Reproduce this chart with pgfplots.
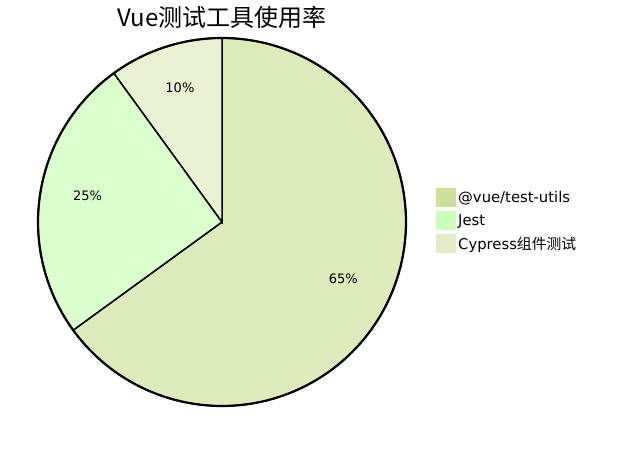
\documentclass[border=0pt]{standalone}
\usepackage{pgfplots}
\pgfplotsset{compat=1.18}
\usepackage{fontspec}
\setmainfont{DejaVu Sans}
\newfontfamily\cjk{Noto Sans CJK SC}

\definecolor{vueL}{HTML}{CDE09A}
\definecolor{jestL}{HTML}{CCFFB8}
\definecolor{cypL}{HTML}{E2EDC6}
\definecolor{vueP}{HTML}{DCEBB9}
\definecolor{jestP}{HTML}{DBFFCC}
\definecolor{cypP}{HTML}{E8F2D3}

% shares (percent): @vue/test-utils 65, Jest 25, Cypress 10
% start at 90 deg and run clockwise: 65 -> 234 deg, 25 -> 90 deg, 10 -> 36 deg

\begin{document}
\begin{tikzpicture}[x=1pt,y=1pt]
\useasboundingbox (0,0) rectangle (638,450);
\node[font=\cjk\fontsize{24}{28}\selectfont] at (222,433) {Vue测试工具使用率};
\begin{axis}[
    at={(38pt,44pt)}, anchor=south west,
    scale only axis, width=368pt, height=368pt,
    xmin=-1, xmax=1, ymin=-1, ymax=1,
    axis lines=none, clip=false,
    legend style={at={(1.0815,0.593)}, anchor=north west, draw=none, fill=none,
        inner sep=0pt, row sep=3.5pt,
        font=\fontsize{14.8}{16}\selectfont,
        nodes={inner xsep=2.5pt, inner ysep=0pt}},
    legend cell align=left,
]
\addplot[draw=black, line width=1.5pt, fill=vueP, domain=-144:90, samples=120,
    legend image code/.code={\fill[vueL] (0pt,-9pt) rectangle (18pt,9pt);}]
    ({cos(x)},{sin(x)}) -- (0,0) -- cycle;
\addlegendentry{@vue/test-utils}
\addplot[draw=black, line width=1.5pt, fill=jestP, domain=126:216, samples=60,
    legend image code/.code={\fill[jestL] (0pt,-9pt) rectangle (18pt,9pt);}]
    ({cos(x)},{sin(x)}) -- (0,0) -- cycle;
\addlegendentry{Jest}
\addplot[draw=black, line width=1.5pt, fill=cypP, domain=90:126, samples=30,
    legend image code/.code={\fill[cypL] (0pt,-9pt) rectangle (18pt,9pt);}]
    ({cos(x)},{sin(x)}) -- (0,0) -- cycle;
\addlegendentry{Cypress{\cjk 组件测试}}
\addplot[draw=black, line width=2.2pt, domain=0:360, samples=200, forget plot]
    ({cos(x)},{sin(x)});
\node[font=\fontsize{13}{15}\selectfont, yshift=5pt] at (axis cs:{0.74*cos(-27)},{0.74*sin(-27)}) {65\%};
\node[font=\fontsize{13}{15}\selectfont, yshift=5pt] at (axis cs:{0.74*cos(171)},{0.74*sin(171)}) {25\%};
\node[font=\fontsize{13}{15}\selectfont, yshift=5pt] at (axis cs:{0.74*cos(108)},{0.74*sin(108)}) {10\%};
\end{axis}
\end{tikzpicture}
\end{document}
